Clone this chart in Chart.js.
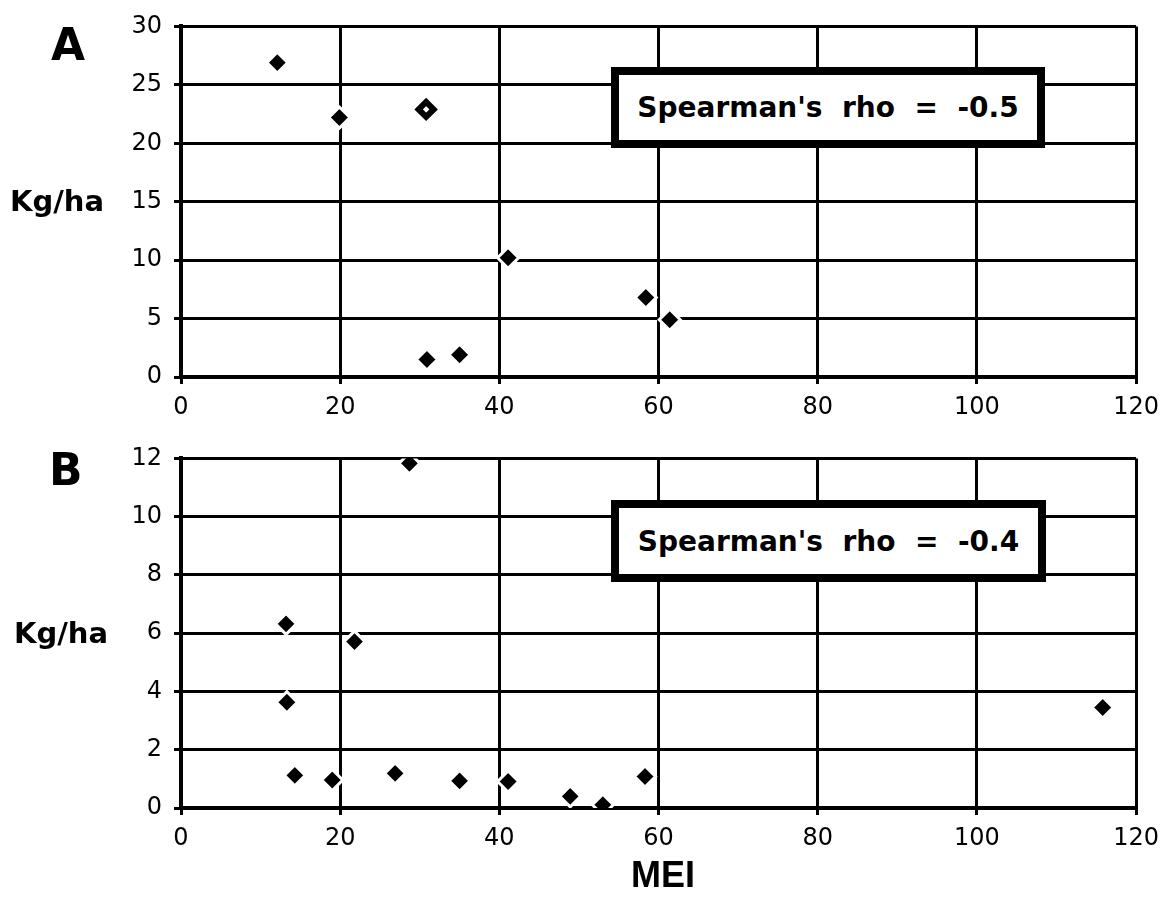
<!DOCTYPE html>
<html>
<head>
<meta charset="utf-8">
<script src="https://cdn.jsdelivr.net/npm/chart.js@4.4.1/dist/chart.umd.min.js"></script>
<style>
body { margin:0; background:#fff; width:1168px; height:910px; position:relative; overflow:hidden; }
canvas { position:absolute; left:0; }
#chartA { top:0; }
#chartB { top:432px; }
.lbl { position:absolute; font-family:"DejaVu Sans", sans-serif; font-weight:bold; color:#000; white-space:pre; line-height:1; z-index:2; }
.box { position:absolute; background:#fff; border:8px solid #000; box-sizing:border-box; display:flex; align-items:center; justify-content:center; font:bold 28px "DejaVu Sans", sans-serif; white-space:pre; z-index:2; }
</style>
</head>
<body>
<canvas id="chartA" width="1168" height="440"></canvas>
<canvas id="chartB" width="1168" height="478"></canvas>

<div class="lbl" style="left:51px;top:23px;font-size:44px;">A</div>
<div class="lbl" style="left:49px;top:448px;font-size:44px;">B</div>
<div class="lbl" style="left:10px;top:187px;font-size:29px;">Kg/ha</div>
<div class="lbl" style="left:14px;top:619px;font-size:29px;">Kg/ha</div>
<div class="lbl" style="left:631px;top:857px;font-size:36px;font-family:'Liberation Sans',sans-serif;">MEI</div>

<div class="box" style="left:611px;top:67px;width:434px;height:81px;">Spearman's  rho  =  -0.5</div>
<div class="box" style="left:611px;top:500px;width:435px;height:82px;">Spearman's  rho  =  -0.4</div>

<script>
// ---------------- data ----------------
const meiTicks = [0, 20, 40, 60, 80, 100, 120];

// panel A
const aMei = [12.1, 19.9, 30.8, 41.1, 30.9, 35.0, 58.4, 61.4];
const aKg  = [26.9, 22.2, 22.9, 10.2, 1.5, 1.9, 6.8, 4.9];
const aHollow = [2];
const aTicks = [0, 5, 10, 15, 20, 25, 30];

// panel B
const bMei = [28.7, 13.2, 21.8, 13.3, 14.3, 19.0, 26.9, 35.0, 41.1, 48.9, 53.0, 58.3, 115.8];
const bKg  = [11.83, 6.32, 5.71, 3.63, 1.12, 0.96, 1.19, 0.93, 0.91, 0.40, 0.11, 1.08, 3.45];
const bHollow = [];
const bTicks = [0, 2, 4, 6, 8, 10, 12];

const tickFont = { family: "DejaVu Sans", size: 24 };

// ---------------- one panel ----------------
function panel(id, xs, ys, hollow, yTicks, padTop, padBottom) {
    const pts = xs.map((x, i) => ({ x: x, y: ys[i] }));
    const isHollow = i => hollow.includes(i);

    return new Chart(document.getElementById(id), {
        type: "scatter",
        data: {
            datasets: [{
                data: pts,
                pointStyle: "rectRot",
                pointRadius: xs.map((x, i) => isHollow(i) ? 7.5 : 10.5),
                pointBorderWidth: xs.map((x, i) => isHollow(i) ? 6 : 3),
                pointBackgroundColor: xs.map((x, i) => isHollow(i) ? "#fff" : "#000"),
                pointBorderColor: xs.map((x, i) => isHollow(i) ? "#000" : "#fff")
            }]
        },
        options: {
            responsive: false,
            animation: false,
            events: [],
            layout: { padding: { left: 0, right: 30, top: padTop, bottom: padBottom } },
            plugins: { legend: { display: false }, tooltip: { enabled: false } },
            scales: {
                x: {
                    type: "linear",
                    min: meiTicks[0],
                    max: meiTicks[meiTicks.length - 1],
                    afterBuildTicks: s => { s.ticks = meiTicks.map(v => ({ value: v })); },
                    afterFit: s => { s.height = 50; },
                    grid: { color: "#000", lineWidth: 3, tickLength: 7 },
                    border: { color: "#000", width: 4 },
                    ticks: { color: "#000", font: tickFont, padding: 9, maxRotation: 0 }
                },
                y: {
                    type: "linear",
                    min: yTicks[0],
                    max: yTicks[yTicks.length - 1],
                    afterBuildTicks: s => { s.ticks = yTicks.map(v => ({ value: v })); },
                    afterFit: s => { s.width = 181; },
                    grid: { color: "#000", lineWidth: 3, tickLength: 7 },
                    border: { color: "#000", width: 4 },
                    ticks: { color: "#000", font: tickFont, padding: 12 }
                }
            }
        }
    });
}

panel("chartA", aMei, aKg, aHollow, aTicks, 24, 13);
panel("chartB", bMei, bKg, bHollow, bTicks, 24, 52);
</script>
</body>
</html>
